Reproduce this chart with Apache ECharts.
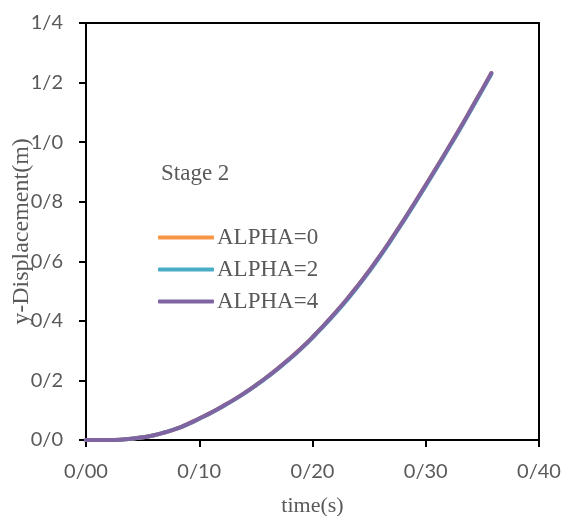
<!DOCTYPE html>
<html>
<head>
<meta charset="utf-8">
<script src="https://cdn.jsdelivr.net/npm/echarts@6/dist/echarts.min.js"></script>
<style>
  html, body { margin: 0; padding: 0; background: #fff; }
  #chart { width: 563px; height: 516px; }
</style>
</head>
<body>
<div id="chart"></div>
<script>
// time (s)
const times = [0, 0.01, 0.02, 0.03, 0.04, 0.05, 0.06, 0.07, 0.08, 0.09,
  0.10, 0.11, 0.12, 0.13, 0.14, 0.15, 0.16, 0.17, 0.18, 0.19,
  0.20, 0.21, 0.22, 0.23, 0.24, 0.25, 0.26, 0.27, 0.28, 0.29,
  0.30, 0.31, 0.32, 0.33, 0.34, 0.35, 0.358];

// y-displacement (m)
const alpha0 = [0, 0, 0, 0.001, 0.004, 0.009, 0.016, 0.026, 0.038, 0.054,
  0.072, 0.091, 0.112, 0.134, 0.158, 0.184, 0.212, 0.242, 0.274, 0.308,
  0.345, 0.385, 0.427, 0.471, 0.518, 0.568, 0.621, 0.677, 0.735, 0.795,
  0.856, 0.918, 0.981, 1.045, 1.111, 1.178, 1.232];
const alpha2 = [0, 0, 0, 0.001, 0.004, 0.009, 0.016, 0.026, 0.038, 0.053,
  0.071, 0.090, 0.111, 0.133, 0.157, 0.183, 0.211, 0.240, 0.272, 0.306,
  0.343, 0.383, 0.424, 0.468, 0.515, 0.565, 0.618, 0.674, 0.732, 0.792,
  0.853, 0.915, 0.978, 1.042, 1.108, 1.175, 1.229];
const alpha4 = [0, 0, 0, 0.001, 0.004, 0.009, 0.016, 0.026, 0.038, 0.054,
  0.072, 0.091, 0.112, 0.134, 0.158, 0.184, 0.212, 0.242, 0.274, 0.308,
  0.345, 0.385, 0.427, 0.471, 0.518, 0.568, 0.621, 0.677, 0.735, 0.795,
  0.856, 0.918, 0.981, 1.045, 1.111, 1.178, 1.232];

const seriesNames = ['ALPHA=0', 'ALPHA=2', 'ALPHA=4'];
const seriesColors = ['#F79646', '#4BACC6', '#8064A2'];
const xTickLabels = ['0/00', '0/10', '0/20', '0/30', '0/40'];
const yTickLabels = ['0/0', '0/2', '0/4', '0/6', '0/8', '1/0', '1/2', '1/4'];

const serif = "'Liberation Serif', 'Times New Roman', serif";
const sans = "Lato, 'Open Sans', sans-serif";
const textColor = '#595959';

const chart = echarts.init(document.getElementById('chart'));

const allValues = [alpha0, alpha2, alpha4];
const series = allValues.map((vals, i) => ({
  name: seriesNames[i],
  type: 'line',
  smooth: true,
  showSymbol: false,
  symbol: 'none',
  data: times.map((t, k) => [t, vals[k]]),
  lineStyle: { width: 4, color: seriesColors[i], cap: 'round' },
  itemStyle: { color: seriesColors[i] },
  z: 2 + i
}));

// plain black frame lines for the top and right sides
const frameAxis = {
  type: 'value',
  axisLine: { show: true, onZero: false, lineStyle: { color: '#000', width: 2 } },
  axisTick: { show: false },
  axisLabel: { show: false },
  splitLine: { show: false }
};

chart.setOption({
  animation: false,
  backgroundColor: '#fff',
  title: {
    text: 'Stage 2',
    left: 156,
    top: 157,
    textStyle: { fontFamily: serif, fontSize: 23, fontWeight: 'normal', color: textColor }
  },
  legend: {
    orient: 'vertical',
    left: 158,
    top: 226,
    padding: 0,
    icon: 'roundRect',
    itemWidth: 56,
    itemHeight: 4,
    itemGap: 9,
    data: seriesNames,
    textStyle: { fontFamily: serif, fontSize: 23, color: textColor, lineHeight: 22, padding: [0, 0, 0, -2] }
  },
  grid: {
    left: 86, right: 24, top: 23, bottom: 76,
    outerBoundsMode: 'none',
    containLabel: false
  },
  xAxis: [{
    type: 'value',
    min: 0, max: 0.4, interval: 0.1,
    name: 'time(s)',
    nameLocation: 'middle',
    nameGap: 55,
    nameMoveOverlap: false,
    nameTextStyle: { fontFamily: serif, fontSize: 22, color: textColor },
    axisLine: { show: true, onZero: false, lineStyle: { color: '#000', width: 2 } },
    axisTick: { show: true, inside: false, length: 7, lineStyle: { color: '#000', width: 2 } },
    axisLabel: {
      margin: 22,
      fontFamily: sans, fontSize: 20, color: textColor,
      formatter: v => xTickLabels[Math.round(v / 0.1)]
    },
    splitLine: { show: false }
  }, Object.assign({ position: 'top', min: 0, max: 0.4 }, frameAxis)],
  yAxis: [{
    type: 'value',
    min: 0, max: 1.4, interval: 0.2,
    name: 'y-Displacement(m)',
    nameLocation: 'middle',
    nameGap: 52,
    nameMoveOverlap: false,
    nameTextStyle: { fontFamily: serif, fontSize: 24, color: textColor },
    axisLine: { show: true, onZero: false, lineStyle: { color: '#000', width: 2 } },
    axisTick: { show: true, inside: false, length: 7, lineStyle: { color: '#000', width: 2 } },
    axisLabel: {
      margin: 23,
      fontFamily: sans, fontSize: 20, color: textColor,
      formatter: v => yTickLabels[Math.round(v / 0.2)]
    },
    splitLine: { show: false }
  }, Object.assign({ position: 'right', min: 0, max: 1.4 }, frameAxis)],
  series: series
});
</script>
</body>
</html>
